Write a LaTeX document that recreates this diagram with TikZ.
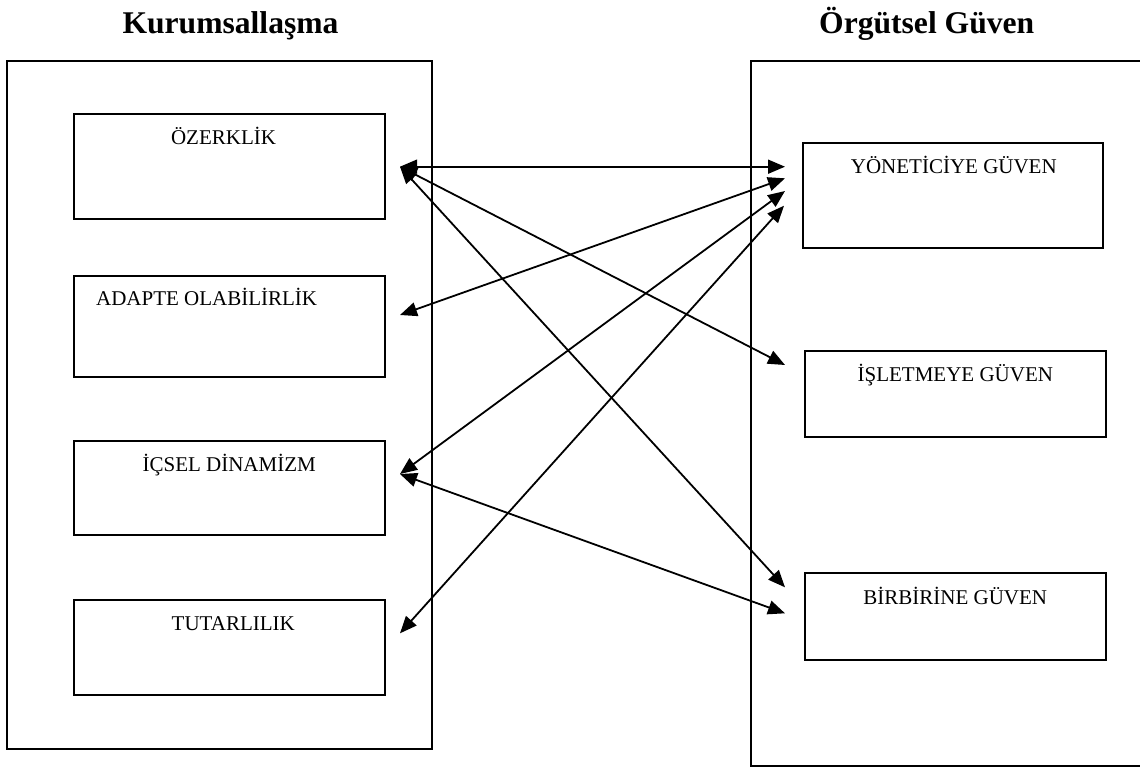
\documentclass[tikz,border=0pt]{standalone}
\usepackage{fontspec}
\setmainfont{Liberation Serif}
\usetikzlibrary{arrows.meta}
\begin{document}
\begin{tikzpicture}[x=0.5pt,y=-0.5pt,
  frame/.style={draw, line width=1pt, inner sep=0pt},
  itembox/.style={draw, line width=1pt, inner sep=0pt},
  heading/.style={font=\fontsize{15.8pt}{18pt}\selectfont\bfseries, anchor=base, inner sep=0pt},
  itemtext/.style={font=\fontsize{10.5pt}{12pt}\selectfont, anchor=base, inner sep=0pt},
  link/.style={line width=0.9pt, {Triangle[length=8.5pt,width=7pt]}-{Triangle[length=8.5pt,width=7pt]}}]
\clip (0,0) rectangle (1140,767);
\fill[white] (0,0) rectangle (1140,767);

% headings
\node[heading] (hL) at (230.5,33) {Kurumsallaşma};
\node[heading] (hR) at (926.7,33) {Örgütsel Güven};

% outer frames
\node[frame, minimum width=212.25pt, minimum height=344pt] (fL) at (219.25,405) {};
\node[frame, minimum width=204.5pt, minimum height=352.5pt] (fR) at (955.5,413.5) {};

% left items
\node[itembox, minimum width=155.5pt, minimum height=52.5pt]  (oz) at (229.5,166.5) {};
\node[itembox, minimum width=155.5pt, minimum height=50.65pt] (ad) at (229.5,326.3) {};
\node[itembox, minimum width=155.5pt, minimum height=47.15pt] (ic) at (229.5,487.85) {};
\node[itembox, minimum width=155.5pt, minimum height=47.5pt]  (tu) at (229.5,647.5) {};
\node[itemtext] (ozT) at (223.5,144) {ÖZERKLİK};
\node[itemtext, anchor=base west] (adT) at (95.7,305.7) {ADAPTE OLABİLİRLİK};
\node[itemtext] (icT) at (229.2,471) {İÇSEL DİNAMİZM};
\node[itemtext] (tuT) at (233.3,630) {TUTARLILIK};

% right items
\node[itembox, minimum width=150pt, minimum height=52.5pt]   (yon) at (953.3,195.8) {};
\node[itembox, minimum width=150.2pt, minimum height=43pt]   (isl) at (955.5,394) {};
\node[itembox, minimum width=150.2pt, minimum height=43.35pt] (bir) at (955.5,616.65) {};
\node[itemtext] (yonT) at (953.8,173.3) {YÖNETİCİYE GÜVEN};
\node[itemtext] (islT) at (955.3,381.7) {İŞLETMEYE GÜVEN};
\node[itemtext] (birT) at (955.2,604) {BİRBİRİNE GÜVEN};

% connector ends beside the boxes
\coordinate (ozP) at (400,166.7);
\coordinate (adP) at (400,315);
\coordinate (icP) at (400,474);
\coordinate (tuP) at (400,633.3);
\coordinate (yonP1) at (785,166.7);
\coordinate (yonP2) at (785,178.3);
\coordinate (yonP3) at (785,191);
\coordinate (yonP4) at (784,205.7);
\coordinate (islP) at (785,365);
\coordinate (birP1) at (785,587.3);
\coordinate (birP2) at (785,613.3);

% relations
\draw[link] (ozP) -- (yonP1);
\draw[link] (adP) -- (yonP2);
\draw[link] (icP) -- (yonP3);
\draw[link] (tuP) -- (yonP4);
\draw[link] (ozP) -- (islP);
\draw[link] (ozP) -- (birP1);
\draw[link] (icP) -- (birP2);
\end{tikzpicture}
\end{document}
